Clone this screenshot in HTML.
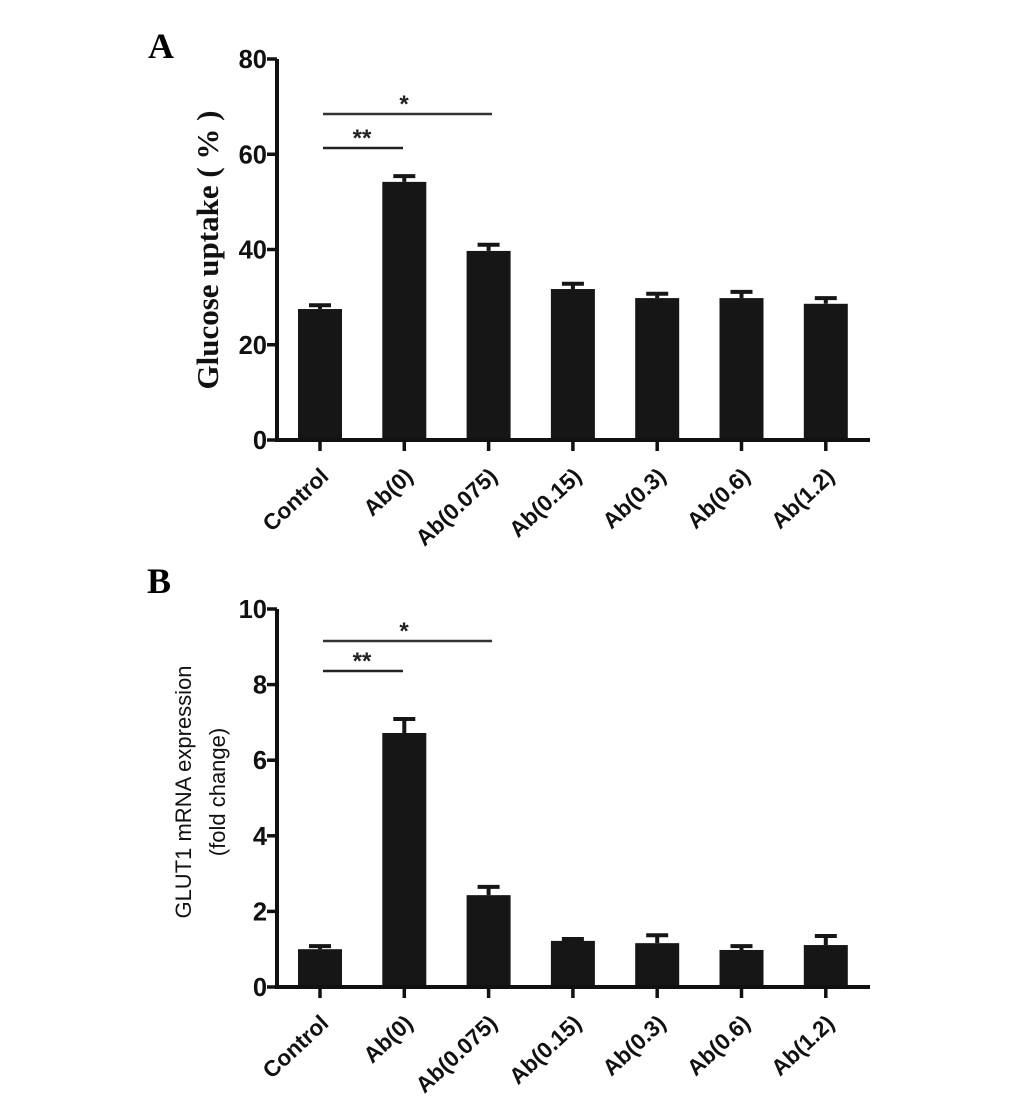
<!DOCTYPE html>
<html><head><meta charset="utf-8"><style>
body{margin:0;background:#fff;}
svg text{font-family:"Liberation Sans",Arial,sans-serif;}
</style></head><body>
<svg id="fig" width="1033" height="1102" viewBox="0 0 1033 1102" xmlns="http://www.w3.org/2000/svg">
<text x="148" y="58" font-weight="bold" font-size="36" style="font-family:'Liberation Serif',serif">A</text>
<text x="147" y="593" font-weight="bold" font-size="36" style="font-family:'Liberation Serif',serif">B</text>
<g id="chartA"></g>
<g id="chartB"></g>
</svg>
<script>
const categories = ["Control","Ab(0)","Ab(0.075)","Ab(0.15)","Ab(0.3)","Ab(0.6)","Ab(1.2)"];
const glucoseValues = [27.5, 54.2, 39.7, 31.7, 29.8, 29.8, 28.6];
const glucoseErrors = [0.8, 1.2, 1.3, 1.1, 0.9, 1.3, 1.2];
const glucoseTicks = [0, 20, 40, 60, 80];
const glutValues = [1.0, 6.72, 2.43, 1.22, 1.16, 0.98, 1.11];
const glutErrors = [0.08, 0.37, 0.22, 0.05, 0.21, 0.1, 0.24];
const glutTicks = [0, 2, 4, 6, 8, 10];
const NS = "http://www.w3.org/2000/svg";
function mk(parent, tag, attrs, txt){
  const e = document.createElementNS(NS, tag);
  for (const k in attrs) e.setAttribute(k, attrs[k]);
  if (txt !== undefined) e.textContent = txt;
  parent.appendChild(e); return e;
}
function drawChart(g, cfg){
  const x0 = 277, xEnd = 870, c0 = 320, step = 84.3, bw = 44;
  const y = v => cfg.yBase - (v - 0) / cfg.max * (cfg.yBase - cfg.yTop);
  const xc = i => c0 + i * step;
  cfg.values.forEach((v, i) => {
    const r = mk(g, "rect", {x: xc(i) - bw/2, y: y(v), width: bw, height: cfg.yBase - y(v), fill: "#161616"});
    
    
    const top = y(v + cfg.errors[i]);
    const e = mk(g, "path", {d: `M${xc(i)} ${y(v)} V${top} M${xc(i)-11} ${top} H${xc(i)+11}`, stroke: "#161616", "stroke-width": 4, fill: "none"});
    
    
    const t = mk(g, "line", {x1: xc(i), x2: xc(i), y1: cfg.yBase, y2: cfg.yBase + 11, stroke: "#111", "stroke-width": 3.5});
    
    
    const lx = xc(i) + 10, ly = cfg.yBase + 38;
    const l = mk(g, "text", {x: lx, y: ly, "text-anchor": "end", "font-size": 22.5, "font-weight": "bold", fill: "#111", transform: `rotate(-43 ${lx} ${ly})`}, categories[i]);
    
    
  });
  const ax = mk(g, "path", {d: `M${x0} ${cfg.yTop} V${cfg.yBase} H${xEnd}`, stroke: "#111", "stroke-width": 4, fill: "none"});
  
  
  cfg.ticks.forEach(t => {
    const tk = mk(g, "line", {x1: x0 - 10, x2: x0, y1: y(t), y2: y(t), stroke: "#111", "stroke-width": 3.5});
    
    
    const tl = mk(g, "text", {x: x0 - 10, y: y(t) + 9, "text-anchor": "end", "font-size": 25.5, "font-weight": "bold", fill: "#111"}, String(t));
    
    
  });
  const s1 = mk(g, "line", {x1: 323, x2: 492, y1: cfg.sig1, y2: cfg.sig1, stroke: "#333", "stroke-width": 2.5});
  
  
  const st1 = mk(g, "text", {x: 404, y: cfg.sig1 - 2, "text-anchor": "middle", "font-size": 24, "font-weight": "bold", fill: "#222"}, "*");
  
  
  const s2 = mk(g, "line", {x1: 323, x2: 403, y1: cfg.sig2, y2: cfg.sig2, stroke: "#222", "stroke-width": 2.5});
  
  
  const st2 = mk(g, "text", {x: 362, y: cfg.sig2 - 2, "text-anchor": "middle", "font-size": 24, "font-weight": "bold", fill: "#222"}, "**");
  
  
}
const gA = document.getElementById("chartA");
drawChart(gA, {values: glucoseValues, errors: glucoseErrors, ticks: glucoseTicks, max: 80, yBase: 440, yTop: 59, sig1: 114, sig2: 148});
const ta = mk(gA, "text", {x: 0, y: 0, "text-anchor": "middle", "font-size": 31, "font-weight": "bold", fill: "#111", transform: "translate(218 250) rotate(-90)", style: "font-family:'Liberation Serif',serif"}, "Glucose uptake ( % )");


const gB = document.getElementById("chartB");
drawChart(gB, {values: glutValues, errors: glutErrors, ticks: glutTicks, max: 10, yBase: 987, yTop: 609, sig1: 641, sig2: 671});
const tb = mk(gB, "text", {x: 0, y: 0, "text-anchor": "middle", "font-size": 22, fill: "#111", transform: "translate(191 792) rotate(-90)"}, "GLUT1 mRNA expression");


const tb2 = mk(gB, "text", {x: 0, y: 0, "text-anchor": "middle", "font-size": 22, fill: "#111", transform: "translate(225 792) rotate(-90)"}, "(fold change)");


</script>
</body></html>
